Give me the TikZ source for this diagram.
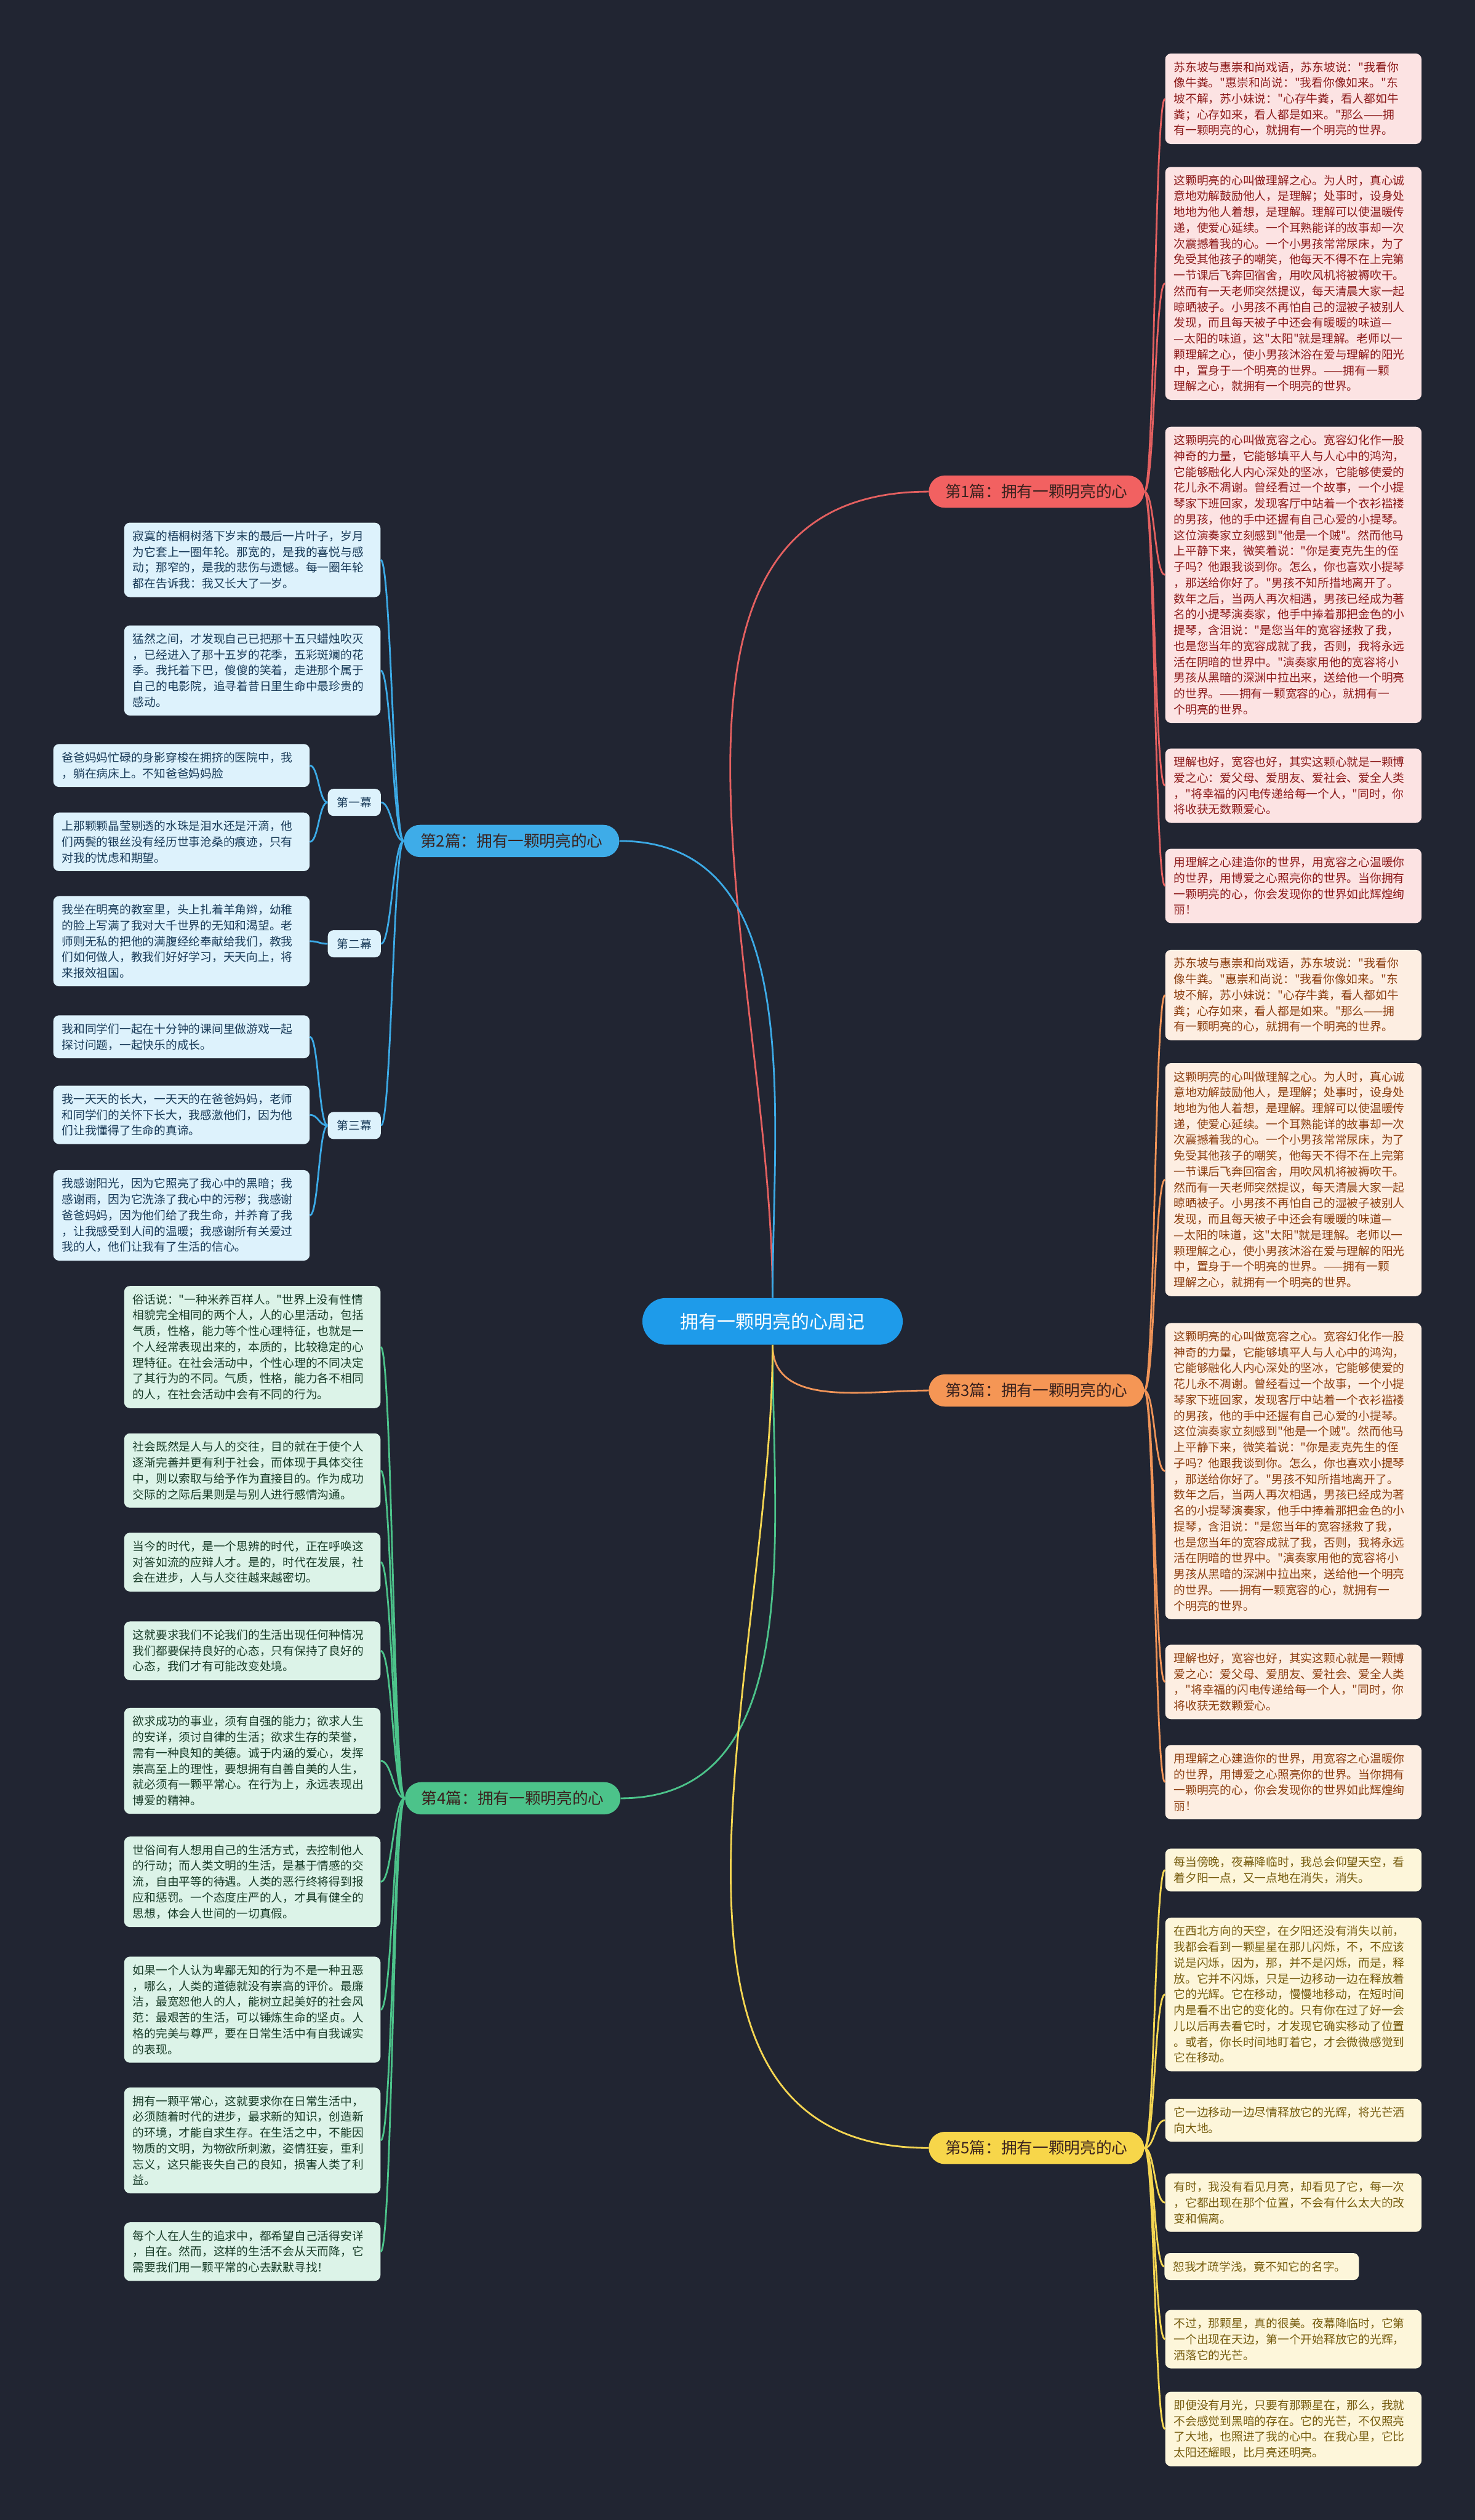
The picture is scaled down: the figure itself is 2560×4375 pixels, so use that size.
\documentclass[tikz,border=0pt]{standalone}
\usepackage{fontspec}
\newfontfamily\cjk{Noto Sans CJK SC}

\definecolor{bgnavy}{RGB}{33,37,50}
\definecolor{ctrblue}{RGB}{30,155,234}
\definecolor{redfill}{RGB}{242,97,97}
\definecolor{redln}{RGB}{228,96,96}
\definecolor{redleaf}{RGB}{252,227,227}
\definecolor{redtext}{RGB}{140,26,26}
\definecolor{orfill}{RGB}{245,150,85}
\definecolor{orln}{RGB}{240,148,88}
\definecolor{orleaf}{RGB}{253,238,226}
\definecolor{ortext}{RGB}{140,62,16}
\definecolor{yefill}{RGB}{247,214,74}
\definecolor{yeln}{RGB}{245,214,82}
\definecolor{yeleaf}{RGB}{253,246,218}
\definecolor{yetext}{RGB}{118,92,14}
\definecolor{blfill}{RGB}{62,172,232}
\definecolor{blln}{RGB}{60,170,230}
\definecolor{blleaf}{RGB}{221,242,252}
\definecolor{bltext}{RGB}{24,58,88}
\definecolor{grfill}{RGB}{76,195,138}
\definecolor{grln}{RGB}{76,195,138}
\definecolor{grleaf}{RGB}{220,243,232}
\definecolor{grtext}{RGB}{24,60,40}
\definecolor{darktext}{RGB}{58,34,30}

% texts shared by the 1st and 3rd piece
\newcommand{\heartA}{苏东坡与惠崇和尚戏语，苏东坡说："我看你\\像牛粪。"惠崇和尚说："我看你像如来。"东\\坡不解，苏小妹说："心存牛粪，看人都如牛\\粪；心存如来，看人都是如来。"那么——拥\\有一颗明亮的心，就拥有一个明亮的世界。}
\newcommand{\heartB}{这颗明亮的心叫做理解之心。为人时，真心诚\\意地劝解鼓励他人，是理解；处事时，设身处\\地地为他人着想，是理解。理解可以使温暖传\\递，使爱心延续。一个耳熟能详的故事却一次\\次震撼着我的心。一个小男孩常常尿床，为了\\免受其他孩子的嘲笑，他每天不得不在上完第\\一节课后飞奔回宿舍，用吹风机将被褥吹干。\\然而有一天老师突然提议，每天清晨大家一起\\晾晒被子。小男孩不再怕自己的湿被子被别人\\发现，而且每天被子中还会有暖暖的味道—\\—太阳的味道，这"太阳"就是理解。老师以一\\颗理解之心，使小男孩沐浴在爱与理解的阳光\\中，置身于一个明亮的世界。——拥有一颗\\理解之心，就拥有一个明亮的世界。}
\newcommand{\heartC}{这颗明亮的心叫做宽容之心。宽容幻化作一股\\神奇的力量，它能够填平人与人心中的鸿沟，\\它能够融化人内心深处的坚冰，它能够使爱的\\花儿永不凋谢。曾经看过一个故事，一个小提\\琴家下班回家，发现客厅中站着一个衣衫褴褛\\的男孩，他的手中还握有自己心爱的小提琴。\\这位演奏家立刻感到"他是一个贼"。然而他马\\上平静下来，微笑着说："你是麦克先生的侄\\子吗？他跟我谈到你。怎么，你也喜欢小提琴\\，那送给你好了。"男孩不知所措地离开了。\\数年之后，当两人再次相遇，男孩已经成为著\\名的小提琴演奏家，他手中捧着那把金色的小\\提琴，含泪说："是您当年的宽容拯救了我，\\也是您当年的宽容成就了我，否则，我将永远\\活在阴暗的世界中。"演奏家用他的宽容将小\\男孩从黑暗的深渊中拉出来，送给他一个明亮\\的世界。——拥有一颗宽容的心，就拥有一\\个明亮的世界。}
\newcommand{\heartD}{理解也好，宽容也好，其实这颗心就是一颗博\\爱之心：爱父母、爱朋友、爱社会、爱全人类\\，"将幸福的闪电传递给每一个人，"同时，你\\将收获无数颗爱心。}
\newcommand{\heartE}{用理解之心建造你的世界，用宽容之心温暖你\\的世界，用博爱之心照亮你的世界。当你拥有\\一颗明亮的心，你会发现你的世界如此辉煌绚\\丽！}

\begin{document}
\begin{tikzpicture}[x=0.02cm, y=-0.02cm,
    ctrnode/.style={
      fill=ctrblue, text=white, rounded corners=0.81cm,
      minimum width=9.04cm, minimum height=1.62cm, inner sep=0pt,
      font=\cjk\fontsize{18.2pt}{22pt}\selectfont
    },
    branch/.style={
      rounded corners=0.56cm, minimum width=7.48cm, minimum height=1.12cm,
      inner sep=0pt, text=darktext, font=\cjk\fontsize{15.6pt}{18pt}\selectfont
    },
    leaf/.style={
      rounded corners=0.2cm, inner xsep=0.3cm, inner ysep=0.28cm,
      text width=8.3cm, align=left, font=\cjk\fontsize{11.4pt}{15.65pt}\selectfont
    },
    redleaf/.style={leaf, fill=redleaf, text=redtext},
    orleaf/.style={leaf, fill=orleaf, text=ortext},
    yeleaf/.style={leaf, fill=yeleaf, text=yetext},
    blleaf/.style={leaf, fill=blleaf, text=bltext},
    grleaf/.style={leaf, fill=grleaf, text=grtext},
    actnode/.style={
      fill=blleaf, text=bltext, rounded corners=0.2cm, inner sep=0pt,
      minimum width=1.84cm, minimum height=0.94cm,
      font=\cjk\fontsize{11.4pt}{14pt}\selectfont
    },
    ln/.style={line width=0.06cm}
  ]
  % dark page
  \fill[bgnavy] (0,0) rectangle (2560,4375);

  % centre and the five pieces
  \node[ctrnode] (ctr) at (1341,2294) {拥有一颗明亮的心周记};
  \node[branch, fill=redfill] (b1) at (1799,853.5) {第1篇：拥有一颗明亮的心};
  \node[branch, fill=blfill]  (b2) at (888,1460)   {第2篇：拥有一颗明亮的心};
  \node[branch, fill=orfill]  (b3) at (1799,2414)  {第3篇：拥有一颗明亮的心};
  \node[branch, fill=grfill]  (b4) at (890,3122)   {第4篇：拥有一颗明亮的心};
  \node[branch, fill=yefill]  (b5) at (1799,3729)  {第5篇：拥有一颗明亮的心};

  % 1st piece
  \node[redleaf] (r1) at (2245,171.5) {\heartA};
  \node[redleaf] (r2) at (2245,492)   {\heartB};
  \node[redleaf] (r3) at (2245,998)   {\heartC};
  \node[redleaf] (r4) at (2245,1364)  {\heartD};
  \node[redleaf] (r5) at (2245,1538)  {\heartE};

  % 3rd piece, same words
  \node[orleaf] (o1) at (2245,1727.5) {\heartA};
  \node[orleaf] (o2) at (2245,2048)   {\heartB};
  \node[orleaf] (o3) at (2245,2554)   {\heartC};
  \node[orleaf] (o4) at (2245,2920)   {\heartD};
  \node[orleaf] (o5) at (2245,3094)   {\heartE};

  % 5th piece
  \node[yeleaf] (y1) at (2245,3246.5) {每当傍晚，夜幕降临时，我总会仰望天空，看\\着夕阳一点，又一点地在消失，消失。};
  \node[yeleaf] (y2) at (2245,3462.5) {在西北方向的天空，在夕阳还没有消失以前，\\我都会看到一颗星星在那儿闪烁，不，不应该\\说是闪烁，因为，那，并不是闪烁，而是，释\\放。它并不闪烁，只是一边移动一边在释放着\\它的光辉。它在移动，慢慢地移动，在短时间\\内是看不出它的变化的。只有你在过了好一会\\儿以后再去看它时，才发现它确实移动了位置\\。或者，你长时间地盯着它，才会微微感觉到\\它在移动。};
  \node[yeleaf] (y3) at (2245,3681)   {它一边移动一边尽情释放它的光辉，将光芒洒\\向大地。};
  \node[yeleaf] (y4) at (2245,3824)   {有时，我没有看见月亮，却看见了它，每一次\\，它都出现在那个位置，不会有什么太大的改\\变和偏离。};
  \node[yeleaf, text width=6.15cm] (y5) at (2190,3935) {恕我才疏学浅，竟不知它的名字。};
  \node[yeleaf] (y6) at (2245,4061)   {不过，那颗星，真的很美。夜幕降临时，它第\\一个出现在天边，第一个开始释放它的光辉，\\洒落它的光芒。};
  \node[yeleaf] (y7) at (2245,4217)   {即便没有月光，只要有那颗星在，那么，我就\\不会感觉到黑暗的存在。它的光芒，不仅照亮\\了大地，也照进了我的心中。在我心里，它比\\太阳还耀眼，比月亮还明亮。};

  % 2nd piece
  \node[blleaf] (u1) at (438,972)  {寂寞的梧桐树落下岁末的最后一片叶子，岁月\\为它套上一圈年轮。那宽的，是我的喜悦与感\\动；那窄的，是我的悲伤与遗憾。每一圈年轮\\都在告诉我：我又长大了一岁。};
  \node[blleaf] (u2) at (438,1164) {猛然之间，才发现自己已把那十五只蜡烛吹灭\\，已经进入了那十五岁的花季，五彩斑斓的花\\季。我托着下巴，傻傻的笑着，走进那个属于\\自己的电影院，追寻着昔日里生命中最珍贵的\\感动。};
  \node[actnode] (act1) at (615,1393)   {第一幕};
  \node[actnode] (act2) at (615,1638.5) {第二幕};
  \node[actnode] (act3) at (615,1954)   {第三幕};
  \node[blleaf] (u11) at (315,1329)   {爸爸妈妈忙碌的身影穿梭在拥挤的医院中，我\\，躺在病床上。不知爸爸妈妈脸};
  \node[blleaf] (u12) at (315,1461.5) {上那颗颗晶莹剔透的水珠是泪水还是汗滴，他\\们两鬓的银丝没有经历世事沧桑的痕迹，只有\\对我的忧虑和期望。};
  \node[blleaf] (u21) at (315,1634)   {我坐在明亮的教室里，头上扎着羊角辫，幼稚\\的脸上写满了我对大千世界的无知和渴望。老\\师则无私的把他的满腹经纶奉献给我们，教我\\们如何做人，教我们好好学习，天天向上，将\\来报效祖国。};
  \node[blleaf] (u31) at (315,1800)   {我和同学们一起在十分钟的课间里做游戏一起\\探讨问题，一起快乐的成长。};
  \node[blleaf] (u32) at (315,1935.5) {我一天天的长大，一天天的在爸爸妈妈，老师\\和同学们的关怀下长大，我感激他们，因为他\\们让我懂得了生命的真谛。};
  \node[blleaf] (u33) at (315,2110)   {我感谢阳光，因为它照亮了我心中的黑暗；我\\感谢雨，因为它洗涤了我心中的污秽；我感谢\\爸爸妈妈，因为他们给了我生命，并养育了我\\，让我感受到人间的温暖；我感谢所有关爱过\\我的人，他们让我有了生活的信心。};

  % 4th piece
  \node[grleaf] (g1) at (438,2338.6) {俗话说："一种米养百样人。"世界上没有性情\\相貌完全相同的两个人，人的心里活动，包括\\气质，性格，能力等个性心理特征，也就是一\\个人经常表现出来的，本质的，比较稳定的心\\理特征。在社会活动中，个性心理的不同决定\\了其行为的不同。气质，性格，能力各不相同\\的人，在社会活动中会有不同的行为。};
  \node[grleaf] (g2) at (438,2553) {社会既然是人与人的交往，目的就在于使个人\\逐渐完善并更有利于社会，而体现于具体交往\\中，则以索取与给予作为直接目的。作为成功\\交际的之际后果则是与别人进行感情沟通。};
  \node[grleaf] (g3) at (438,2712) {当今的时代，是一个思辨的时代，正在呼唤这\\对答如流的应辩人才。是的，时代在发展，社\\会在进步，人与人交往越来越密切。};
  \node[grleaf] (g4) at (438,2866) {这就要求我们不论我们的生活出现任何种情况\\我们都要保持良好的心态，只有保持了良好的\\心态，我们才有可能改变处境。};
  \node[grleaf] (g5) at (438,3057) {欲求成功的事业，须有自强的能力；欲求人生\\的安详，须讨自律的生活；欲求生存的荣誉，\\需有一种良知的美德。诚于内涵的爱心，发挥\\崇高至上的理性，要想拥有自善自美的人生，\\就必须有一颗平常心。在行为上，永远表现出\\博爱的精神。};
  \node[grleaf] (g6) at (438,3267) {世俗间有人想用自己的生活方式，去控制他人\\的行动；而人类文明的生活，是基于情感的交\\流，自由平等的待遇。人类的恶行终将得到报\\应和惩罚。一个态度庄严的人，才具有健全的\\思想，体会人世间的一切真假。};
  \node[grleaf] (g7) at (438,3489) {如果一个人认为卑鄙无知的行为不是一种丑恶\\，哪么，人类的道德就没有崇高的评价。最廉\\洁，最宽恕他人的人，能树立起美好的社会风\\范：最艰苦的生活，可以锤炼生命的坚贞。人\\格的完美与尊严，要在日常生活中有自我诚实\\的表现。};
  \node[grleaf] (g8) at (438,3716) {拥有一颗平常心，这就要求你在日常生活中，\\必须随着时代的进步，最求新的知识，创造新\\的环境，才能自求生存。在生活之中，不能因\\物质的文明，为物欲所刺激，姿情狂妄，重利\\忘义，这只能丧失自己的良知，损害人类了利\\益。};
  \node[grleaf] (g9) at (438,3909) {每个人在人生的追求中，都希望自己活得安详\\，自在。然而，这样的生活不会从天而降，它\\需要我们用一颗平常的心去默默寻找！};

  % centre to pieces
  \draw[ln, redln] (ctr.north) to[out=90, in=180] (b1.west);
  \draw[ln, blln]  (ctr.north) to[out=90, in=0]   (b2.east);
  \draw[ln, orln]  (ctr.south) to[out=-90, in=180] (b3.west);
  \draw[ln, grln]  (ctr.south) to[out=-90, in=0]   (b4.east);
  \draw[ln, yeln]  (ctr.south) to[out=-90, in=180] (b5.west);

  % pieces to their leaves
  \foreach \i in {1,...,5} {
    \draw[ln, redln] (b1.east) .. controls +(18,0) and +(-18,0) .. (r\i.west);
    \draw[ln, orln]  (b3.east) .. controls +(18,0) and +(-18,0) .. (o\i.west);
  }
  \foreach \i in {1,...,7}
    \draw[ln, yeln] (b5.east) .. controls +(18,0) and +(-18,0) .. (y\i.west);
  \foreach \n in {u1,u2,act1,act2,act3}
    \draw[ln, blln] (b2.west) .. controls +(-18,0) and +(18,0) .. (\n.east);
  \foreach \a/\n in {act1/u11, act1/u12, act2/u21, act3/u31, act3/u32, act3/u33}
    \draw[ln, blln] (\a.west) .. controls +(-15,0) and +(15,0) .. (\n.east);
  \foreach \i in {1,...,9}
    \draw[ln, grln] (b4.west) .. controls +(-20,0) and +(20,0) .. (g\i.east);
\end{tikzpicture}
\end{document}
